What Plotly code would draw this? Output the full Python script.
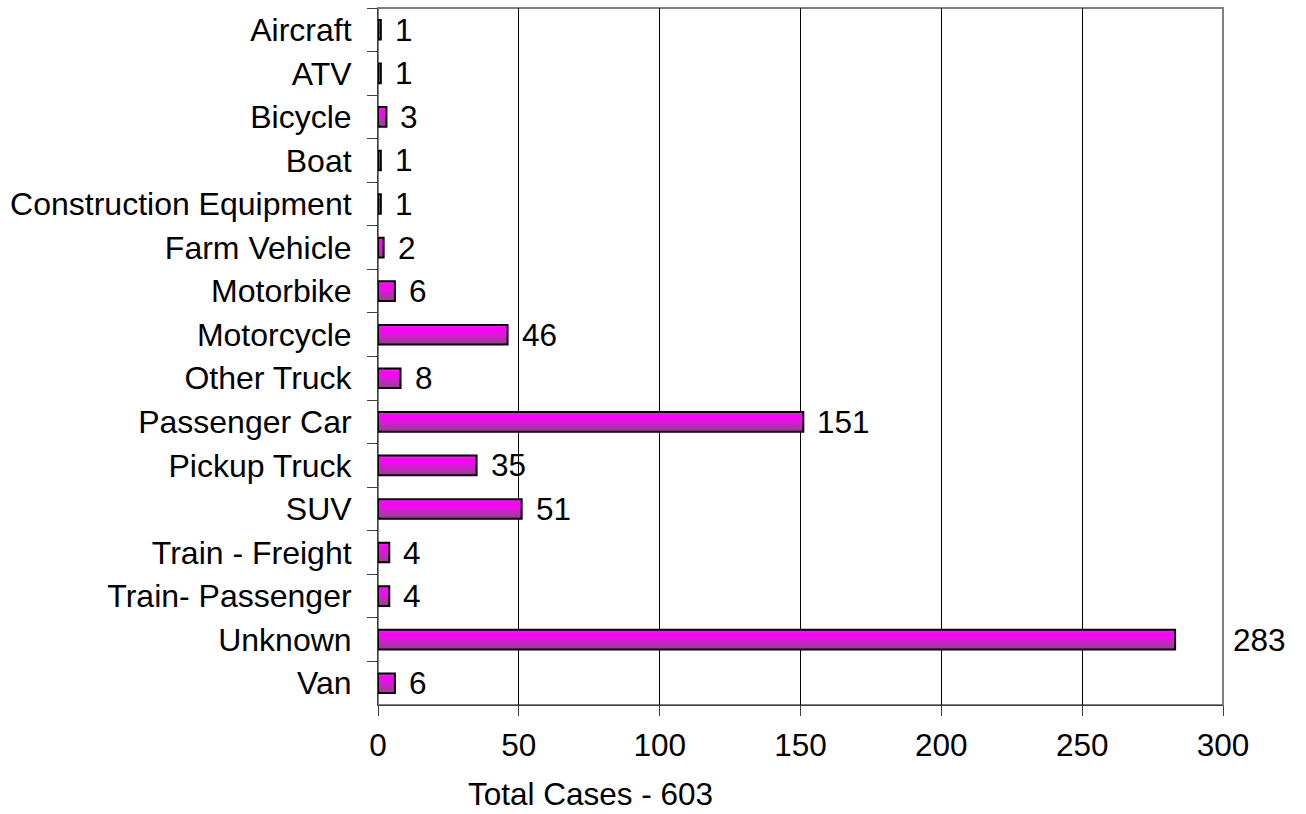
import plotly.graph_objects as go

categories = ["Aircraft", "ATV", "Bicycle", "Boat", "Construction Equipment",
              "Farm Vehicle", "Motorbike", "Motorcycle", "Other Truck",
              "Passenger Car", "Pickup Truck", "SUV", "Train - Freight",
              "Train- Passenger", "Unknown", "Van"]
cases = [1, 1, 3, 1, 1, 2, 6, 46, 8, 151, 35, 51, 4, 4, 283, 6]
x_ticks = [0, 50, 100, 150, 200, 250, 300]
x_title = "Total Cases - 603"

FONT = "Arial, 'Liberation Sans', sans-serif"
FS = 31.5
FS_CAT = 32
W = 0.45
band_colors = ["#FF12FF", "#FF00FF", "#F408F2", "#E414E2", "#D020CC",
               "#BC2CB8", "#AA36A6", "#9C3C94"]

fig = go.Figure()
n = len(band_colors)
bw = W / n
for i, c in enumerate(band_colors):
    fig.add_trace(go.Bar(
        y=categories, x=cases, orientation="h",
        width=W - i * bw, offset=-W / 2 + i * bw,
        marker=dict(color=c, line=dict(width=0)),
        showlegend=False, hoverinfo="skip"))
# outline
fig.add_trace(go.Bar(
    y=categories, x=cases, orientation="h",
    width=W, offset=-W / 2,
    marker=dict(color="rgba(0,0,0,0)", line=dict(color="black", width=2)),
    showlegend=False, hovertemplate="%{y}: %{x}<extra></extra>"))

xmax = x_ticks[-1]
annotations = []
for cat, v in zip(categories, cases):
    if v > 0.9 * xmax:
        annotations.append(dict(x=1, xref="paper", y=cat, yref="y", text=str(v),
                                xanchor="left", yanchor="middle", xshift=8,
                                showarrow=False, font=dict(family=FONT, size=FS, color="black")))
    else:
        annotations.append(dict(x=v, xref="x", y=cat, yref="y", text=str(v),
                                xanchor="left", yanchor="middle", xshift=12,
                                showarrow=False, font=dict(family=FONT, size=FS, color="black")))
annotations.append(dict(x=0.251, xref="paper", y=-0.128, yref="paper", text=x_title,
                        xanchor="center", yanchor="middle", showarrow=False,
                        font=dict(family=FONT, size=FS, color="black")))

fig.update_layout(
    width=1306, height=814,
    margin=dict(l=378, r=83, t=8, b=109, autoexpand=False),
    paper_bgcolor="white", plot_bgcolor="white",
    barmode="overlay",
    font=dict(family=FONT, size=FS, color="black"),
    annotations=annotations,
    shapes=[dict(type="rect", xref="paper", yref="paper", x0=0, x1=1, y0=0, y1=1,
                 line=dict(color="#808080", width=2), fillcolor="rgba(0,0,0,0)", layer="below")],
    xaxis=dict(range=[0, xmax], tickvals=x_ticks, ticktext=[str(t) for t in x_ticks],
               showgrid=True, gridcolor="black", gridwidth=1, zeroline=False,
               showline=True, linecolor="#404040", linewidth=1,
               ticks="outside", ticklen=10, tickcolor="#404040",
               ticklabelstandoff=2,
               tickfont=dict(family=FONT, size=FS, color="black")),
    yaxis=dict(categoryorder="array", categoryarray=categories, autorange="reversed",
               showgrid=False, zeroline=False,
               showline=True, linecolor="#404040", linewidth=1,
               ticks="outside", ticklen=10, tickcolor="#404040", tickson="boundaries",
               ticklabelstandoff=19,
               tickfont=dict(family=FONT, size=FS_CAT, color="black")),
)

fig.write_html("out.html", config={"displayModeBar": False},
               post_script="document.body.style.margin='0';document.body.style.overflow='hidden';")
